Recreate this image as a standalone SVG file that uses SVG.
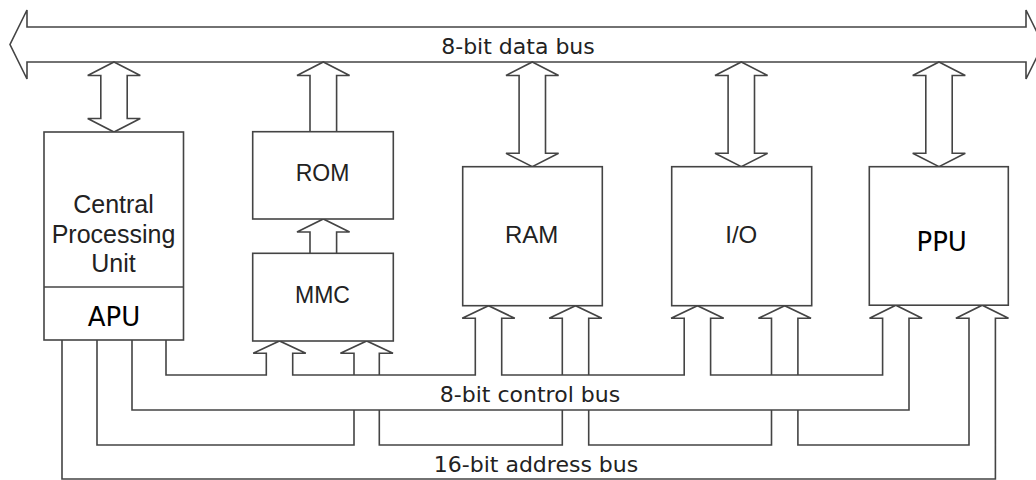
<svg xmlns="http://www.w3.org/2000/svg" width="1036" height="480" viewBox="0 0 1036 480">
<style>
.ln{fill:none;stroke:#444;stroke-width:1.6;stroke-linejoin:miter}
.ar{fill:#fff;stroke:#444;stroke-width:1.6}
.box{fill:#fff;stroke:#444;stroke-width:1.6}
.lbl{font-family:"Liberation Sans",Arial,sans-serif;fill:#222;text-anchor:middle}
.blk{font-family:"DejaVu Sans",Verdana,sans-serif;fill:#000;text-anchor:middle}
.bus{font-family:"DejaVu Sans",Verdana,sans-serif;font-size:22px;fill:#222;text-anchor:middle}
</style>
<rect width="1036" height="480" fill="#fff"/>
<g id="connectors">
  <polygon id="data-bus" class="ar" points="27,27 1026,27 1026,10 1043,44.5 1026,79 1026,62 27,62 27,79 10,44.5 27,10"/>
  <polygon class="ar" points="114,62 140.3,75.5 127.2,75.5 127.2,118.5 140.3,118.5 114,132 87.7,118.5 100.8,118.5 100.8,75.5 87.7,75.5"/>
  <polygon class="ar" points="532.3,62 558.6,75.5 545.5,75.5 545.5,153.3 558.6,153.3 532.3,166.7 506,153.3 519.1,153.3 519.1,75.5 506,75.5"/>
  <polygon class="ar" points="741.3,62 767.6,75.5 754.5,75.5 754.5,153.3 767.6,153.3 741.3,166.7 715,153.3 728.1,153.3 728.1,75.5 715,75.5"/>
  <polygon class="ar" points="939,62 965.3,75.5 952.2,75.5 952.2,153.3 965.3,153.3 939,166.7 912.7,153.3 925.8,153.3 925.8,75.5 912.7,75.5"/>
  <path class="ln" d="M310,131.7 V75.5 H297 L323.3,62 L349.6,75.5 H336.6 V131.7"/>
  <path class="ln" d="M310,253.3 V232 H297 L323.3,219 L349.6,232 H336.6 V253.3"/>
  <path id="control-bus" class="ln" d="M166,340 V375 H266.3 V353.3 H253.2 L279.5,341 L305.8,353.3 H292.7 V375 H475.3 V318.3 H462.2 L488.5,305.7 L514.8,318.3 H501.7 V375 H684.2 V318.3 H671.1 L697.4,305.7 L723.7,318.3 H710.6 V375 H882.6 V318.3 H869.5 L895.8,305.2 L922.1,318.3 H909 V410 H132 V340"/>
  <path id="address-bus" class="ln" d="M97,340 V445 H354 V410 M354,375 V353.3 H340.4 L366.7,341 L393,353.3 H379.3 V375 M379.3,410 V445 H562.3 V410 M562.3,375 V318.3 H549.2 L575.5,305.7 L601.8,318.3 H588.7 V375 M588.7,410 V445 H771.5 V410 M771.5,375 V318.3 H758.4 L784.7,305.7 L811,318.3 H797.9 V375 M797.9,410 V445 H969 V318.3 H955.9 L982.2,305.2 L1008.5,318.3 H995.4 V479 H62 V340"/>
  <text class="bus" x="518" y="53.5">8-bit data bus</text>
  <text class="bus" x="530" y="401.5">8-bit control bus</text>
  <text class="bus" x="536" y="471.5">16-bit address bus</text>
</g>
<g id="cpu">
  <rect class="box" x="44" y="132" width="139.5" height="208"/>
  <line class="ln" x1="44" y1="287" x2="183.5" y2="287"/>
  <text class="lbl" font-size="25" x="113.5" y="213.3">Central</text>
  <text class="lbl" font-size="25" x="113.5" y="242.5">Processing</text>
  <text class="lbl" font-size="25" x="113.5" y="272.3">Unit</text>
  <text class="blk" font-size="26" x="114" y="326">APU</text>
</g>
<g id="rom">
  <rect class="box" x="252.7" y="131.7" width="140.6" height="87.3"/>
  <text class="lbl" font-size="23" x="322.5" y="180.7">ROM</text>
</g>
<g id="mmc">
  <rect class="box" x="252.7" y="253.3" width="140.6" height="87.7"/>
  <text class="lbl" font-size="23" x="322.5" y="303.3">MMC</text>
</g>
<g id="ram">
  <rect class="box" x="462.7" y="166.7" width="139.6" height="139"/>
  <text class="lbl" font-size="24" x="531.7" y="242.6">RAM</text>
</g>
<g id="io">
  <rect class="box" x="671.7" y="166.7" width="140" height="139"/>
  <text class="lbl" font-size="24" x="741.3" y="242.7">I/O</text>
</g>
<g id="ppu">
  <rect class="box" x="869.3" y="166.7" width="139" height="138.5"/>
  <text class="blk" font-size="26" x="941.7" y="250.6">PPU</text>
</g>
</svg>
